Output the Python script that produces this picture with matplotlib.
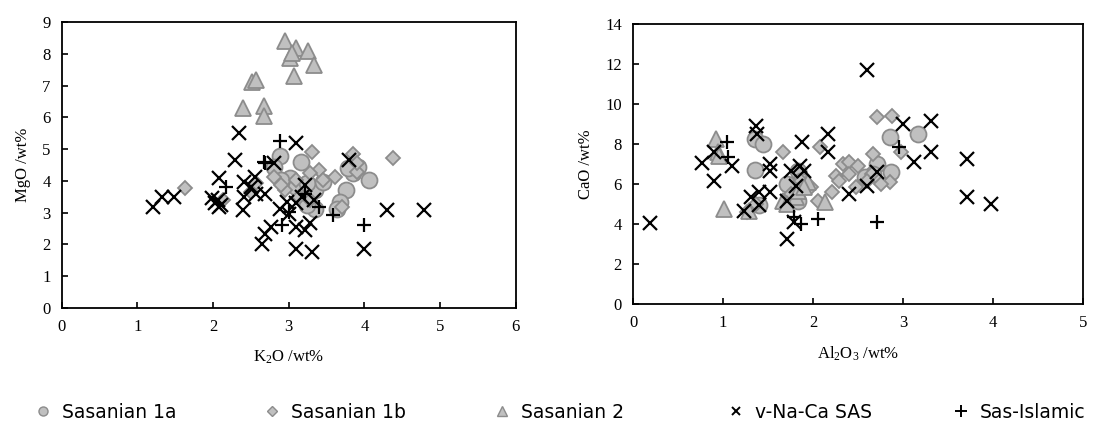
import matplotlib.pyplot as plt
from matplotlib.lines import Line2D

plt.rcParams['font.family'] = 'Liberation Serif'
plt.rcParams['mathtext.fontset'] = 'custom'
plt.rcParams['mathtext.rm'] = 'Liberation Serif'
plt.rcParams['mathtext.it'] = 'Liberation Serif:italic'

# ---- left panel: K2O vs MgO ----
s1a_k2o = [2.88, 2.81, 3.16, 3.02, 2.90, 3.09, 3.35, 3.24, 3.45, 3.76, 3.68, 3.64, 3.92, 3.85, 4.06, 3.35, 3.24, 3.78]
s1a_mgo = [4.78, 4.45, 4.60, 4.08, 4.03, 3.81, 3.71, 3.92, 3.97, 3.71, 3.34, 3.13, 4.45, 4.24, 4.03, 3.13, 3.23, 4.39]

s1b_k2o = [1.63, 2.13, 3.31, 3.85, 4.38, 3.61, 3.40, 3.28, 3.45, 3.90, 3.90, 3.09, 2.95, 2.90, 2.81, 2.57, 2.50, 3.28, 3.14, 3.71]
s1b_mgo = [3.79, 3.41, 4.92, 4.85, 4.73, 4.13, 4.34, 4.24, 4.03, 4.29, 4.55, 4.03, 3.71, 3.87, 4.13, 3.92, 3.66, 3.39, 3.50, 3.18]

s2_k2o = [2.95, 3.09, 3.02, 3.05, 3.25, 3.33, 3.07, 2.52, 2.57, 2.40, 2.68, 2.67]
s2_mgo = [8.40, 8.19, 7.87, 8.03, 8.08, 7.66, 7.29, 7.10, 7.17, 6.29, 6.36, 6.05]

vna_k2o = [1.20, 1.32, 1.49, 1.98, 2.03, 2.08, 2.10, 2.06, 2.08, 2.34, 2.29, 2.41, 2.41, 2.39, 2.55, 2.50,
           2.57, 2.69, 2.81, 2.65, 2.69, 2.76, 2.88, 3.00, 2.98, 3.09, 3.09, 3.31, 3.09, 3.21, 3.28, 3.21,
           3.17, 3.33, 3.80, 4.30, 4.79, 3.99, 3.09]
vna_mgo = [3.18, 3.50, 3.48, 3.45, 3.29, 3.18, 3.23, 3.39, 4.08, 5.50, 4.66, 3.97, 3.50, 3.08, 4.13, 3.81,
           3.60, 3.60, 4.55, 2.02, 2.34, 2.55, 3.13, 2.97, 3.34, 5.18, 1.87, 1.76, 2.55, 2.44, 2.66, 3.87,
           3.50, 3.39, 4.66, 3.08, 3.08, 1.87, 3.29]

isl_k2o = [2.17, 2.67, 2.69, 2.88, 2.91, 3.00, 3.40, 3.59, 3.99, 3.21]
isl_mgo = [3.81, 4.60, 4.55, 5.24, 2.60, 3.02, 3.18, 2.92, 2.60, 3.60]

# ---- right panel: Al2O3 vs CaO ----
s1a_al = [1.35, 1.44, 1.35, 1.71, 1.83, 1.87, 1.83, 1.40, 2.85, 3.17, 2.87, 2.71, 2.67, 2.58]
s1a_cao = [8.24, 7.99, 6.70, 6.00, 6.67, 6.17, 5.17, 4.93, 8.33, 8.49, 6.58, 7.00, 6.50, 6.33]

s1b_al = [1.67, 2.08, 2.71, 2.88, 2.98, 2.67, 2.33, 2.40, 2.50, 2.25, 2.29, 2.40, 2.48, 2.21, 2.06, 2.85,
          2.75, 2.65, 2.60, 1.98, 1.27, 1.75, 1.37, 1.92, 1.87]
s1b_cao = [7.58, 7.83, 9.35, 9.40, 7.58, 7.50, 7.00, 7.08, 6.92, 6.42, 6.17, 6.50, 5.84, 5.59, 5.17, 6.09,
           6.00, 6.50, 6.17, 5.84, 4.59, 5.51, 5.01, 6.00, 6.17]

s2_al = [0.92, 0.94, 0.96, 1.01, 1.29, 1.67, 1.81, 1.94, 2.13, 1.71, 1.83, 1.90]
s2_cao = [8.24, 7.58, 7.41, 4.76, 4.64, 5.17, 5.34, 6.09, 5.09, 5.01, 5.67, 5.84]

vna_al = [0.19, 0.77, 0.90, 0.90, 1.10, 1.37, 1.38, 1.23, 1.31, 1.40, 1.40, 1.52, 1.52, 1.52, 1.71, 1.71,
          1.75, 1.81, 1.85, 1.90, 1.88, 2.17, 2.17, 2.40, 2.60, 2.60, 2.71, 3.00, 3.12, 3.31, 3.31, 3.71,
          3.71, 3.98, 1.79]
vna_cao = [4.05, 7.05, 7.58, 6.17, 6.88, 8.90, 8.49, 4.64, 5.34, 5.59, 4.93, 7.00, 6.67, 5.59, 3.27, 5.17,
           6.67, 5.92, 6.92, 6.67, 8.08, 8.49, 7.58, 5.51, 11.72, 5.92, 6.58, 8.99, 7.08, 9.15, 7.58, 7.25,
           5.34, 5.01, 4.10]

isl_al = [1.04, 1.06, 1.79, 1.87, 2.06, 2.71, 2.96]
isl_cao = [8.08, 7.33, 4.35, 4.01, 4.26, 4.10, 7.83]

labels = ['Sasanian 1a', 'Sasanian 1b', 'Sasanian 2', 'v-Na-Ca SAS', 'Sas-Islamic']
grey_fill, grey_edge = '#c0c0c0', '#8c8c8c'
styles = [
    dict(marker='o', ms=11.5, mfc=grey_fill, mec=grey_edge, mew=1.3),
    dict(marker='D', ms=7, mfc=grey_fill, mec=grey_edge, mew=1.3),
    dict(marker='^', ms=11, mfc=grey_fill, mec=grey_edge, mew=1.3),
    dict(marker='x', ms=10.5, mfc='none', mec='black', mew=1.6),
    dict(marker='+', ms=10.5, mfc='none', mec='black', mew=1.6),
]
# smaller symbols used in the legend row
legend_ms = [6.5, 5, 7.5, 6, 8.5]
legend_mew = [1.0, 1.0, 1.0, 1.4, 1.4]
legend_x = [43, 272, 502, 736, 961]  # pixel centre of each legend symbol

fig = plt.figure(figsize=(11.07, 4.34), dpi=100)
ax1 = fig.add_axes([61.7 / 1107, (434 - 308) / 434, 454 / 1107, 286 / 434])
ax2 = fig.add_axes([633 / 1107, (434 - 304) / 434, 450 / 1107, 280 / 434])

left_sets = [(s1a_k2o, s1a_mgo), (s1b_k2o, s1b_mgo), (s2_k2o, s2_mgo), (vna_k2o, vna_mgo), (isl_k2o, isl_mgo)]
right_sets = [(s1a_al, s1a_cao), (s1b_al, s1b_cao), (s2_al, s2_cao), (vna_al, vna_cao), (isl_al, isl_cao)]

for (x, y), st in zip(left_sets, styles):
    ax1.plot(x, y, linestyle='none', **st)
for (x, y), st in zip(right_sets, styles):
    ax2.plot(x, y, linestyle='none', **st)

ax1.set_xlim(0, 6)
ax1.set_ylim(0, 9)
ax1.set_xticks(range(0, 7))
ax1.set_yticks(range(0, 10))
ax1.set_xlabel('K$_2$O /wt%', fontsize=12, labelpad=10)
ax1.set_ylabel('MgO /wt%', fontsize=12, labelpad=8)

ax2.set_xlim(0, 5)
ax2.set_ylim(0, 14)
ax2.set_xticks(range(0, 6))
ax2.set_yticks(range(0, 15, 2))
ax2.set_xlabel('Al$_2$O$_3$ /wt%', fontsize=12, labelpad=10)
ax2.set_ylabel('CaO /wt%', fontsize=12, labelpad=8)

for ax in (ax1, ax2):
    for sp in ax.spines.values():
        sp.set_linewidth(1.3)
    ax.tick_params(direction='in', length=4, width=1.2, labelsize=12, pad=8,
                   top=False, right=False)

# one small legend per entry so each sits where the original places it
fs = 13.5
half_handle = 0.5 * fs * 100 / 72  # handlelength=1 -> half width in px
for lab, st, ms, mew, xc in zip(labels, styles, legend_ms, legend_mew, legend_x):
    h = Line2D([], [], linestyle='none', marker=st['marker'], ms=ms, mfc=st['mfc'],
               mec=st['mec'], mew=mew)
    fig.legend(handles=[h], labels=[lab], loc='center left',
               bbox_to_anchor=((xc - half_handle) / 1107, (434 - 412) / 434),
               frameon=False, borderpad=0, borderaxespad=0, handlelength=1.0,
               handletextpad=0.5, prop={'family': 'DejaVu Sans', 'size': fs})

fig.savefig('out.png', dpi=100)
